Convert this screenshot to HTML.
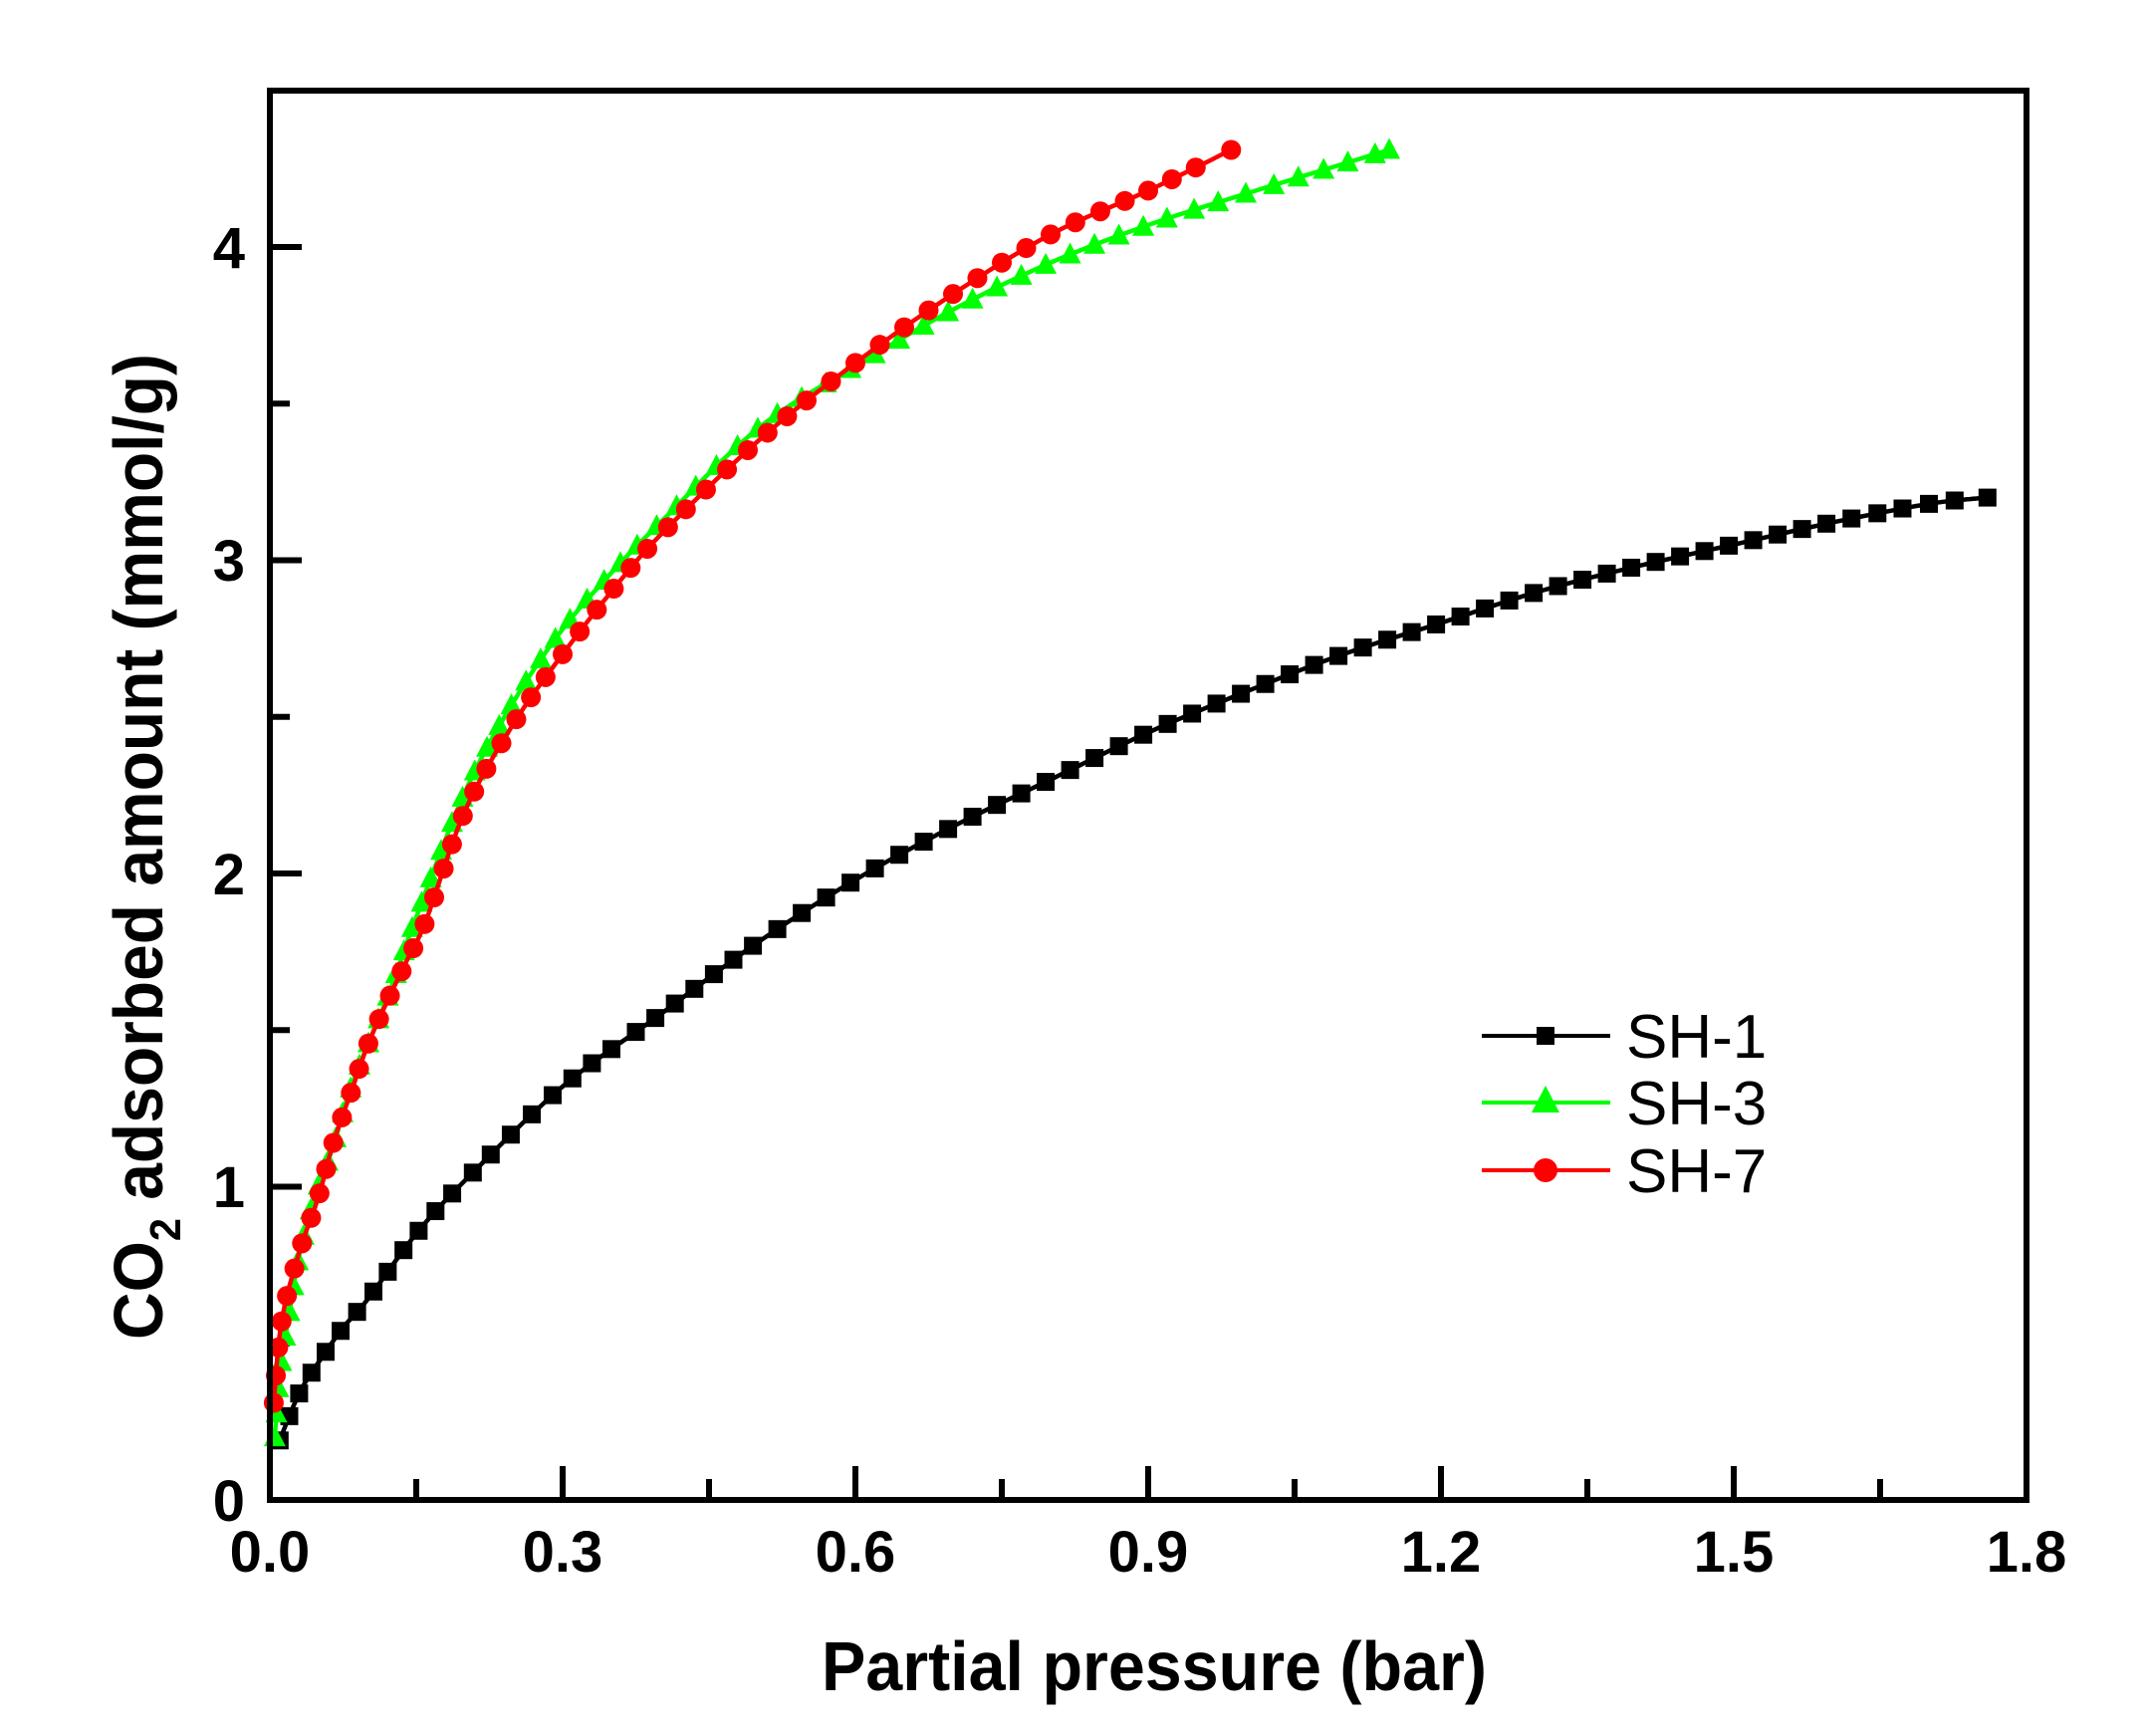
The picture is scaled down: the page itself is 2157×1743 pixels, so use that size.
<!DOCTYPE html>
<html><head><meta charset="utf-8"><style>
html,body{margin:0;padding:0;background:#fff}
svg{display:block}
text{font-family:"Liberation Sans",Arial,sans-serif}
</style></head><body>
<svg id="s" width="2157" height="1743" viewBox="0 0 2157 1743" xmlns="http://www.w3.org/2000/svg">
<rect width="2157" height="1743" fill="#fff"/>
<g id="ticks" stroke="#000" stroke-width="6"></g>
<g id="plot"></g>
<rect x="271" y="91" width="1764" height="1415" fill="none" stroke="#000" stroke-width="6"/>
<g font-weight="bold" font-size="58" text-anchor="middle" fill="#000">
<text x="271" y="1578">0.0</text><text x="565" y="1578">0.3</text><text x="859" y="1578">0.6</text>
<text x="1153" y="1578">0.9</text><text x="1447" y="1578">1.2</text><text x="1741" y="1578">1.5</text><text x="2035" y="1578">1.8</text>
</g>
<g font-weight="bold" font-size="58" text-anchor="end" fill="#000">
<text x="246" y="1527">0</text><text x="246" y="1212">1</text><text x="246" y="898">2</text><text x="246" y="583">3</text><text x="246" y="269">4</text>
</g>
<text x="1159" y="1697" font-weight="bold" font-size="70" text-anchor="middle" textLength="668" lengthAdjust="spacingAndGlyphs">Partial pressure (bar)</text>
<g transform="translate(163,850) rotate(-90)">
<text x="0" y="0" font-weight="bold" font-size="70" text-anchor="middle" textLength="990" lengthAdjust="spacingAndGlyphs">CO<tspan font-size="44" dy="18">2</tspan><tspan dy="-18"> adsorbed amount (mmol/g)</tspan></text>
</g>
<g font-size="62" fill="#000">
<text x="1633" y="1062">SH-1</text><text x="1633" y="1129">SH-3</text><text x="1633" y="1197">SH-7</text>
</g>
<g stroke-width="4">
<line x1="1488" y1="1040" x2="1617" y2="1040" stroke="#000"/>
<rect x="1543" y="1031" width="18" height="18" fill="#000"/>
<line x1="1488" y1="1107" x2="1617" y2="1107" stroke="#00ff00"/>
<polygon points="1552,1090 1538,1117 1566,1117" fill="#00ff00"/>
<line x1="1488" y1="1175" x2="1617" y2="1175" stroke="#ff0000"/>
<circle cx="1552" cy="1175" r="12" fill="#ff0000"/>
</g>
</svg>
<script>
function X(x){return 271+980*x}function Y(y){return 1506-314.5*y}
var t=document.getElementById("ticks"),h="";
for(var i=1;i<12;i++){var x=271+i*147,L=(i%2==0)?34:21;h+='<line x1="'+x+'" y1="1506" x2="'+x+'" y2="'+(1506-L)+'"/>';}
for(var i=1;i<9;i++){var y=1506-i*157.25,L=(i%2==0)?32:20;h+='<line x1="271" y1="'+y+'" x2="'+(271+L)+'" y2="'+y+'"/>';}
t.innerHTML=h;
var S1=[[0.01,0.19],[0.03,0.34],[0.05,0.44],[0.075,0.55],[0.1,0.64],[0.15,0.85],[0.2,1.02],[0.3,1.32],[0.4,1.55],[0.5,1.78],[0.6,1.98],[0.7,2.15],[0.8,2.3],[0.9,2.45],[1.0,2.58],[1.1,2.7],[1.2,2.8],[1.3,2.9],[1.4,2.98],[1.5,3.05],[1.6,3.12],[1.7,3.18],[1.76,3.2]];
var S3=[[0.005,0.2],[0.01,0.4],[0.02,0.6],[0.03,0.78],[0.045,0.96],[0.065,1.13],[0.08,1.29],[0.1,1.45],[0.12,1.6],[0.135,1.73],[0.15,1.86],[0.2,2.26],[0.25,2.55],[0.3,2.78],[0.35,2.96],[0.4,3.12],[0.5,3.42],[0.6,3.62],[0.7,3.8],[0.8,3.95],[0.9,4.07],[1.0,4.17],[1.147,4.31]];
var S7=[[0.004,0.31],[0.012,0.57],[0.03,0.79],[0.05,0.97],[0.065,1.14],[0.083,1.3],[0.1,1.45],[0.12,1.59],[0.14,1.72],[0.16,1.85],[0.2,2.2],[0.25,2.48],[0.3,2.7],[0.35,2.9],[0.4,3.08],[0.5,3.38],[0.6,3.63],[0.7,3.85],[0.8,4.04],[0.9,4.18],[0.985,4.31]];
function dense(S){var P=S.map(function(p){return [X(p[0]),Y(p[1])]}),o=[];
 for(var i=0;i<P.length-1;i++){var p0=P[Math.max(0,i-1)],p1=P[i],p2=P[i+1],p3=P[Math.min(P.length-1,i+2)];
  for(var k=0;k<20;k++){var s=k/20,s2=s*s,s3=s2*s;
   o.push([0.5*(2*p1[0]+(-p0[0]+p2[0])*s+(2*p0[0]-5*p1[0]+4*p2[0]-p3[0])*s2+(-p0[0]+3*p1[0]-3*p2[0]+p3[0])*s3),
           0.5*(2*p1[1]+(-p0[1]+p2[1])*s+(2*p0[1]-5*p1[1]+4*p2[1]-p3[1])*s2+(-p0[1]+3*p1[1]-3*p2[1]+p3[1])*s3)]);}}
 o.push(P[P.length-1]);return o;}
function marks(D,sp){var m=[D[0]],acc=0;for(var i=1;i<D.length;i++){var d=Math.hypot(D[i][0]-D[i-1][0],D[i][1]-D[i-1][1]);acc+=d;if(acc>=sp){m.push(D[i]);acc=0;}}
 var l=D[D.length-1];if(Math.hypot(m[m.length-1][0]-l[0],m[m.length-1][1]-l[1])>sp*0.5)m.push(l);else m[m.length-1]=l;return m;}
var g=document.getElementById("plot"),out="";
function series(S,col,type,sp){var D=dense(S);out+='<polyline fill="none" stroke="'+col+'" stroke-width="4.5" points="'+D.map(function(p){return p[0].toFixed(1)+','+p[1].toFixed(1)}).join(' ')+'"/>';
 marks(D,sp).forEach(function(p){var x=p[0],y=p[1];
  if(type==0)out+='<rect x="'+(x-9)+'" y="'+(y-9)+'" width="18" height="18" fill="'+col+'"/>';
  else if(type==1)out+='<polygon points="'+x+','+(y-12)+' '+(x-11)+','+(y+9)+' '+(x+11)+','+(y+9)+'" fill="'+col+'"/>';
  else out+='<circle cx="'+x+'" cy="'+y+'" r="10" fill="'+col+'"/>';});}
series(S1,"#000",0,24);series(S3,"#00ff00",1,24);series(S7,"#ff0000",2,25);
g.innerHTML=out;
</script>
</body></html>
